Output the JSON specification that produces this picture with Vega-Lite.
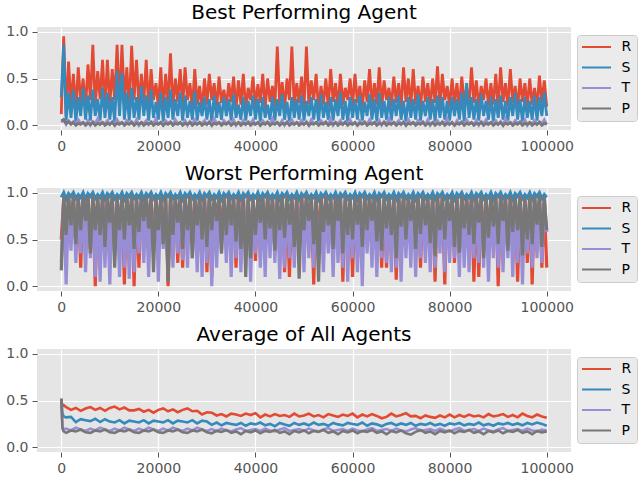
{
  "$schema": "https://vega.github.io/schema/vega-lite/v6.json",
  "description": "Best, worst and average agent R/S/T/P over 100000 steps",
  "padding": {"left": 5, "top": 2, "right": 0, "bottom": 0},
  "background": "#FFFFFF",
  "config": {
    "font": "DejaVu Sans",
    "view": {"fill": "#E5E5E5", "stroke": null},
    "axis": {"domain": false, "grid": true, "gridColor": "#FFFFFF", "gridWidth": 1.2, "tickColor": "#555555", "tickSize": 5, "labelColor": "#555555", "labelFontSize": 14, "labelPadding": 4, "labelFont": "DejaVu Sans"},
    "axisX": {"labelFlush": false},
    "title": {"fontSize": 20, "fontWeight": "normal", "color": "#000000", "font": "DejaVu Sans", "offset": 2, "frame": "group", "anchor": "middle"},
    "legend": {"orient": "none", "legendX": 540, "legendY": 8, "symbolType": "stroke", "symbolSize": 841, "clipHeight": 14, "symbolStrokeWidth": 2, "symbolOffset": -1, "labelFontSize": 14, "labelColor": "#000000", "labelFont": "DejaVu Sans", "fillColor": "#EBEBEB", "strokeColor": "#CCCCCC", "cornerRadius": 3, "padding": 5, "rowPadding": 6.5, "labelOffset": 9.5},
    "concat": {"spacing": 10}
  },
  "datasets": {
    "best": [
      {"x":0,"R":0.12,"S":0.3,"T":0.03,"P":0.05},{"x":500,"R":0.95,"S":0.86,"T":0.06,"P":0.06},{"x":1000,"R":0.1,"S":0.05,"T":0.01,"P":0.02},{"x":1500,"R":0.68,"S":0.35,"T":0.05,"P":0.04},
      {"x":2000,"R":0.22,"S":0.08,"T":0.02,"P":0.01},{"x":2500,"R":0.55,"S":0.38,"T":0.04,"P":0.03},{"x":3000,"R":0.16,"S":0.04,"T":0.01,"P":0.0},{"x":3500,"R":0.62,"S":0.3,"T":0.06,"P":0.02},
      {"x":4000,"R":0.25,"S":0.1,"T":0.02,"P":0.01},{"x":4500,"R":0.5,"S":0.4,"T":0.03,"P":0.03},{"x":5000,"R":0.18,"S":0.06,"T":0.01,"P":0.0},{"x":5500,"R":0.65,"S":0.32,"T":0.05,"P":0.02},
      {"x":6000,"R":0.27,"S":0.05,"T":0.0,"P":0.01},{"x":6500,"R":0.86,"S":0.38,"T":0.04,"P":0.03},{"x":7000,"R":0.2,"S":0.1,"T":0.02,"P":0.0},{"x":7500,"R":0.58,"S":0.28,"T":0.07,"P":0.02},
      {"x":8000,"R":0.28,"S":0.05,"T":0.01,"P":0.01},{"x":8500,"R":0.7,"S":0.4,"T":0.03,"P":0.03},{"x":9000,"R":0.18,"S":0.08,"T":0.02,"P":0.0},{"x":9500,"R":0.7,"S":0.35,"T":0.05,"P":0.02},
      {"x":10000,"R":0.22,"S":0.06,"T":0.01,"P":0.01},{"x":10500,"R":0.6,"S":0.3,"T":0.04,"P":0.03},{"x":11000,"R":0.27,"S":0.04,"T":0.0,"P":0.0},{"x":11500,"R":0.86,"S":0.58,"T":0.06,"P":0.02},
      {"x":12000,"R":0.2,"S":0.1,"T":0.02,"P":0.01},{"x":12500,"R":0.86,"S":0.56,"T":0.03,"P":0.03},{"x":13000,"R":0.25,"S":0.06,"T":0.01,"P":0.0},{"x":13500,"R":0.62,"S":0.35,"T":0.05,"P":0.02},
      {"x":14000,"R":0.18,"S":0.05,"T":0.02,"P":0.01},{"x":14500,"R":0.85,"S":0.4,"T":0.04,"P":0.03},{"x":15000,"R":0.27,"S":0.08,"T":0.01,"P":0.0},{"x":15500,"R":0.7,"S":0.3,"T":0.06,"P":0.02},
      {"x":16000,"R":0.2,"S":0.06,"T":0.0,"P":0.01},{"x":16500,"R":0.55,"S":0.42,"T":0.03,"P":0.03},{"x":17000,"R":0.24,"S":0.1,"T":0.02,"P":0.0},{"x":17500,"R":0.7,"S":0.32,"T":0.05,"P":0.02},
      {"x":18000,"R":0.18,"S":0.05,"T":0.01,"P":0.01},{"x":18500,"R":0.6,"S":0.38,"T":0.04,"P":0.03},{"x":19000,"R":0.27,"S":0.08,"T":0.02,"P":0.0},{"x":19500,"R":0.45,"S":0.25,"T":0.07,"P":0.02},
      {"x":20000,"R":0.2,"S":0.06,"T":0.01,"P":0.01},{"x":20500,"R":0.62,"S":0.35,"T":0.03,"P":0.03},{"x":21000,"R":0.16,"S":0.04,"T":0.0,"P":0.0},{"x":21500,"R":0.55,"S":0.3,"T":0.05,"P":0.02},
      {"x":22000,"R":0.22,"S":0.08,"T":0.02,"P":0.01},{"x":22500,"R":0.77,"S":0.38,"T":0.04,"P":0.03},{"x":23000,"R":0.18,"S":0.06,"T":0.01,"P":0.0},{"x":23500,"R":0.5,"S":0.28,"T":0.06,"P":0.02},
      {"x":24000,"R":0.25,"S":0.1,"T":0.02,"P":0.01},{"x":24500,"R":0.6,"S":0.35,"T":0.03,"P":0.03},{"x":25000,"R":0.2,"S":0.05,"T":0.01,"P":0.0},{"x":25500,"R":0.62,"S":0.32,"T":0.05,"P":0.02},
      {"x":26000,"R":0.27,"S":0.08,"T":0.0,"P":0.01},{"x":26500,"R":0.45,"S":0.26,"T":0.04,"P":0.03},{"x":27000,"R":0.18,"S":0.06,"T":0.02,"P":0.0},{"x":27500,"R":0.6,"S":0.36,"T":0.06,"P":0.02},
      {"x":28000,"R":0.22,"S":0.05,"T":0.01,"P":0.01},{"x":28500,"R":0.42,"S":0.25,"T":0.03,"P":0.03},{"x":29000,"R":0.16,"S":0.1,"T":0.02,"P":0.0},{"x":29500,"R":0.5,"S":0.3,"T":0.05,"P":0.02},
      {"x":30000,"R":0.22,"S":0.06,"T":0.01,"P":0.01},{"x":30500,"R":0.55,"S":0.28,"T":0.04,"P":0.03},{"x":31000,"R":0.27,"S":0.04,"T":0.0,"P":0.0},{"x":31500,"R":0.45,"S":0.32,"T":0.07,"P":0.02},
      {"x":32000,"R":0.18,"S":0.08,"T":0.02,"P":0.01},{"x":32500,"R":0.52,"S":0.25,"T":0.03,"P":0.03},{"x":33000,"R":0.24,"S":0.06,"T":0.01,"P":0.0},{"x":33500,"R":0.38,"S":0.3,"T":0.05,"P":0.02},
      {"x":34000,"R":0.2,"S":0.1,"T":0.02,"P":0.01},{"x":34500,"R":0.45,"S":0.28,"T":0.04,"P":0.03},{"x":35000,"R":0.25,"S":0.05,"T":0.01,"P":0.0},{"x":35500,"R":0.52,"S":0.33,"T":0.06,"P":0.02},
      {"x":36000,"R":0.18,"S":0.08,"T":0.0,"P":0.01},{"x":36500,"R":0.48,"S":0.22,"T":0.03,"P":0.03},{"x":37000,"R":0.22,"S":0.06,"T":0.02,"P":0.0},{"x":37500,"R":0.55,"S":0.3,"T":0.05,"P":0.02},
      {"x":38000,"R":0.16,"S":0.05,"T":0.01,"P":0.01},{"x":38500,"R":0.4,"S":0.26,"T":0.04,"P":0.03},{"x":39000,"R":0.27,"S":0.1,"T":0.02,"P":0.0},{"x":39500,"R":0.52,"S":0.32,"T":0.06,"P":0.02},
      {"x":40000,"R":0.2,"S":0.06,"T":0.01,"P":0.01},{"x":40500,"R":0.44,"S":0.28,"T":0.03,"P":0.03},{"x":41000,"R":0.24,"S":0.04,"T":0.0,"P":0.0},{"x":41500,"R":0.55,"S":0.3,"T":0.05,"P":0.02},
      {"x":42000,"R":0.18,"S":0.08,"T":0.02,"P":0.01},{"x":42500,"R":0.5,"S":0.22,"T":0.04,"P":0.03},{"x":43000,"R":0.25,"S":0.06,"T":0.01,"P":0.0},{"x":43500,"R":0.42,"S":0.3,"T":0.07,"P":0.02},
      {"x":44000,"R":0.2,"S":0.05,"T":0.02,"P":0.01},{"x":44500,"R":0.84,"S":0.28,"T":0.03,"P":0.03},{"x":45000,"R":0.22,"S":0.1,"T":0.01,"P":0.0},{"x":45500,"R":0.46,"S":0.33,"T":0.05,"P":0.02},
      {"x":46000,"R":0.18,"S":0.06,"T":0.0,"P":0.01},{"x":46500,"R":0.5,"S":0.25,"T":0.04,"P":0.03},{"x":47000,"R":0.27,"S":0.04,"T":0.02,"P":0.0},{"x":47500,"R":0.84,"S":0.3,"T":0.06,"P":0.02},
      {"x":48000,"R":0.2,"S":0.08,"T":0.01,"P":0.01},{"x":48500,"R":0.45,"S":0.28,"T":0.03,"P":0.03},{"x":49000,"R":0.24,"S":0.06,"T":0.02,"P":0.0},{"x":49500,"R":0.52,"S":0.32,"T":0.05,"P":0.02},
      {"x":50000,"R":0.18,"S":0.05,"T":0.01,"P":0.01},{"x":50500,"R":0.84,"S":0.26,"T":0.04,"P":0.03},{"x":51000,"R":0.22,"S":0.1,"T":0.0,"P":0.0},{"x":51500,"R":0.48,"S":0.3,"T":0.06,"P":0.02},
      {"x":52000,"R":0.27,"S":0.06,"T":0.02,"P":0.01},{"x":52500,"R":0.55,"S":0.28,"T":0.03,"P":0.03},{"x":53000,"R":0.16,"S":0.04,"T":0.01,"P":0.0},{"x":53500,"R":0.42,"S":0.33,"T":0.05,"P":0.02},
      {"x":54000,"R":0.22,"S":0.08,"T":0.02,"P":0.01},{"x":54500,"R":0.5,"S":0.25,"T":0.04,"P":0.03},{"x":55000,"R":0.2,"S":0.06,"T":0.01,"P":0.0},{"x":55500,"R":0.6,"S":0.3,"T":0.07,"P":0.02},
      {"x":56000,"R":0.25,"S":0.05,"T":0.0,"P":0.01},{"x":56500,"R":0.45,"S":0.28,"T":0.03,"P":0.03},{"x":57000,"R":0.18,"S":0.1,"T":0.02,"P":0.0},{"x":57500,"R":0.55,"S":0.35,"T":0.05,"P":0.02},
      {"x":58000,"R":0.22,"S":0.06,"T":0.01,"P":0.01},{"x":58500,"R":0.4,"S":0.26,"T":0.04,"P":0.03},{"x":59000,"R":0.27,"S":0.04,"T":0.02,"P":0.0},{"x":59500,"R":0.5,"S":0.3,"T":0.06,"P":0.02},
      {"x":60000,"R":0.2,"S":0.08,"T":0.01,"P":0.01},{"x":60500,"R":0.55,"S":0.28,"T":0.03,"P":0.03},{"x":61000,"R":0.24,"S":0.06,"T":0.0,"P":0.0},{"x":61500,"R":0.42,"S":0.32,"T":0.05,"P":0.02},
      {"x":62000,"R":0.18,"S":0.05,"T":0.02,"P":0.01},{"x":62500,"R":0.48,"S":0.25,"T":0.04,"P":0.03},{"x":63000,"R":0.25,"S":0.1,"T":0.01,"P":0.0},{"x":63500,"R":0.6,"S":0.33,"T":0.06,"P":0.02},
      {"x":64000,"R":0.2,"S":0.06,"T":0.02,"P":0.01},{"x":64500,"R":0.45,"S":0.28,"T":0.03,"P":0.03},{"x":65000,"R":0.22,"S":0.04,"T":0.01,"P":0.0},{"x":65500,"R":0.62,"S":0.35,"T":0.05,"P":0.02},
      {"x":66000,"R":0.18,"S":0.08,"T":0.0,"P":0.01},{"x":66500,"R":0.48,"S":0.26,"T":0.04,"P":0.03},{"x":67000,"R":0.27,"S":0.06,"T":0.02,"P":0.0},{"x":67500,"R":0.4,"S":0.3,"T":0.07,"P":0.02},
      {"x":68000,"R":0.2,"S":0.05,"T":0.01,"P":0.01},{"x":68500,"R":0.52,"S":0.28,"T":0.03,"P":0.03},{"x":69000,"R":0.24,"S":0.1,"T":0.02,"P":0.0},{"x":69500,"R":0.45,"S":0.32,"T":0.05,"P":0.02},
      {"x":70000,"R":0.18,"S":0.06,"T":0.01,"P":0.01},{"x":70500,"R":0.62,"S":0.26,"T":0.04,"P":0.03},{"x":71000,"R":0.25,"S":0.04,"T":0.0,"P":0.0},{"x":71500,"R":0.5,"S":0.3,"T":0.06,"P":0.02},
      {"x":72000,"R":0.2,"S":0.08,"T":0.02,"P":0.01},{"x":72500,"R":0.6,"S":0.28,"T":0.03,"P":0.03},{"x":73000,"R":0.22,"S":0.06,"T":0.01,"P":0.0},{"x":73500,"R":0.42,"S":0.33,"T":0.05,"P":0.02},
      {"x":74000,"R":0.18,"S":0.05,"T":0.02,"P":0.01},{"x":74500,"R":0.52,"S":0.26,"T":0.04,"P":0.03},{"x":75000,"R":0.25,"S":0.1,"T":0.01,"P":0.0},{"x":75500,"R":0.45,"S":0.3,"T":0.06,"P":0.02},
      {"x":76000,"R":0.2,"S":0.06,"T":0.0,"P":0.01},{"x":76500,"R":0.5,"S":0.28,"T":0.03,"P":0.03},{"x":77000,"R":0.24,"S":0.04,"T":0.02,"P":0.0},{"x":77500,"R":0.63,"S":0.32,"T":0.05,"P":0.02},
      {"x":78000,"R":0.18,"S":0.08,"T":0.01,"P":0.01},{"x":78500,"R":0.55,"S":0.3,"T":0.04,"P":0.03},{"x":79000,"R":0.27,"S":0.06,"T":0.02,"P":0.0},{"x":79500,"R":0.42,"S":0.26,"T":0.07,"P":0.02},
      {"x":80000,"R":0.2,"S":0.05,"T":0.01,"P":0.01},{"x":80500,"R":0.5,"S":0.3,"T":0.03,"P":0.03},{"x":81000,"R":0.22,"S":0.1,"T":0.0,"P":0.0},{"x":81500,"R":0.45,"S":0.28,"T":0.05,"P":0.02},
      {"x":82000,"R":0.18,"S":0.06,"T":0.02,"P":0.01},{"x":82500,"R":0.52,"S":0.35,"T":0.04,"P":0.03},{"x":83000,"R":0.25,"S":0.04,"T":0.01,"P":0.0},{"x":83500,"R":0.4,"S":0.45,"T":0.06,"P":0.02},
      {"x":84000,"R":0.2,"S":0.08,"T":0.02,"P":0.01},{"x":84500,"R":0.62,"S":0.3,"T":0.03,"P":0.03},{"x":85000,"R":0.24,"S":0.06,"T":0.01,"P":0.0},{"x":85500,"R":0.48,"S":0.28,"T":0.05,"P":0.02},
      {"x":86000,"R":0.18,"S":0.05,"T":0.0,"P":0.01},{"x":86500,"R":0.42,"S":0.33,"T":0.04,"P":0.03},{"x":87000,"R":0.27,"S":0.1,"T":0.02,"P":0.0},{"x":87500,"R":0.5,"S":0.26,"T":0.06,"P":0.02},
      {"x":88000,"R":0.2,"S":0.06,"T":0.01,"P":0.01},{"x":88500,"R":0.45,"S":0.3,"T":0.03,"P":0.03},{"x":89000,"R":0.22,"S":0.04,"T":0.02,"P":0.0},{"x":89500,"R":0.55,"S":0.28,"T":0.05,"P":0.02},
      {"x":90000,"R":0.18,"S":0.08,"T":0.01,"P":0.01},{"x":90500,"R":0.62,"S":0.32,"T":0.04,"P":0.03},{"x":91000,"R":0.25,"S":0.06,"T":0.0,"P":0.0},{"x":91500,"R":0.45,"S":0.26,"T":0.07,"P":0.02},
      {"x":92000,"R":0.2,"S":0.05,"T":0.02,"P":0.01},{"x":92500,"R":0.6,"S":0.3,"T":0.03,"P":0.03},{"x":93000,"R":0.24,"S":0.1,"T":0.01,"P":0.0},{"x":93500,"R":0.42,"S":0.34,"T":0.05,"P":0.02},
      {"x":94000,"R":0.18,"S":0.06,"T":0.02,"P":0.01},{"x":94500,"R":0.5,"S":0.28,"T":0.04,"P":0.03},{"x":95000,"R":0.25,"S":0.04,"T":0.01,"P":0.0},{"x":95500,"R":0.45,"S":0.3,"T":0.06,"P":0.02},
      {"x":96000,"R":0.2,"S":0.08,"T":0.0,"P":0.01},{"x":96500,"R":0.5,"S":0.26,"T":0.03,"P":0.03},{"x":97000,"R":0.22,"S":0.06,"T":0.02,"P":0.0},{"x":97500,"R":0.4,"S":0.32,"T":0.05,"P":0.02},
      {"x":98000,"R":0.18,"S":0.05,"T":0.01,"P":0.01},{"x":98500,"R":0.53,"S":0.3,"T":0.04,"P":0.03},{"x":99000,"R":0.24,"S":0.1,"T":0.02,"P":0.0},{"x":99500,"R":0.48,"S":0.35,"T":0.06,"P":0.02},
      {"x":100000,"R":0.2,"S":0.1,"T":0.01,"P":0.01}
    ],
    "worst": [
      {"x":0,"R":0.5,"S":0.95,"T":0.25,"P":0.17},{"x":500,"R":0.95,"S":1.0,"T":0.92,"P":0.97},{"x":1000,"R":0.45,"S":0.93,"T":0.02,"P":0.55},{"x":1500,"R":0.98,"S":0.99,"T":0.88,"P":0.96},
      {"x":2000,"R":0.5,"S":0.96,"T":0.38,"P":0.65},{"x":2500,"R":0.92,"S":1.0,"T":0.95,"P":0.98},{"x":3000,"R":0.45,"S":0.94,"T":0.25,"P":0.45},{"x":3500,"R":0.96,"S":0.98,"T":0.9,"P":0.95},
      {"x":4000,"R":0.2,"S":0.95,"T":0.35,"P":0.6},{"x":4500,"R":0.95,"S":1.0,"T":0.92,"P":0.97},{"x":5000,"R":0.45,"S":0.93,"T":0.15,"P":0.7},{"x":5500,"R":0.98,"S":0.99,"T":0.88,"P":0.96},
      {"x":6000,"R":0.4,"S":0.96,"T":0.3,"P":0.35},{"x":6500,"R":0.92,"S":1.0,"T":0.95,"P":0.98},{"x":7000,"R":0.0,"S":0.94,"T":0.1,"P":0.6},{"x":7500,"R":0.96,"S":0.98,"T":0.9,"P":0.95},
      {"x":8000,"R":0.45,"S":0.95,"T":0.05,"P":0.55},{"x":8500,"R":0.95,"S":1.0,"T":0.92,"P":0.97},{"x":9000,"R":0.5,"S":0.93,"T":0.2,"P":0.42},{"x":9500,"R":0.98,"S":0.99,"T":0.88,"P":0.96},
      {"x":10000,"R":0.45,"S":0.96,"T":0.02,"P":0.68},{"x":10500,"R":0.92,"S":1.0,"T":0.95,"P":0.98},{"x":11000,"R":0.4,"S":0.94,"T":0.3,"P":0.2},{"x":11500,"R":0.96,"S":0.98,"T":0.9,"P":0.95},
      {"x":12000,"R":0.5,"S":0.95,"T":0.1,"P":0.6},{"x":12500,"R":0.95,"S":1.0,"T":0.92,"P":0.97},{"x":13000,"R":0.02,"S":0.93,"T":0.2,"P":0.5},{"x":13500,"R":0.98,"S":0.99,"T":0.88,"P":0.96},
      {"x":14000,"R":0.45,"S":0.96,"T":0.08,"P":0.65},{"x":14500,"R":0.92,"S":1.0,"T":0.95,"P":0.98},{"x":15000,"R":0.0,"S":0.94,"T":0.15,"P":0.4},{"x":15500,"R":0.96,"S":0.98,"T":0.9,"P":0.95},
      {"x":16000,"R":0.2,"S":0.95,"T":0.35,"P":0.58},{"x":16500,"R":0.95,"S":1.0,"T":0.92,"P":0.97},{"x":17000,"R":0.45,"S":0.93,"T":0.25,"P":0.7},{"x":17500,"R":0.98,"S":0.99,"T":0.88,"P":0.96},
      {"x":18000,"R":0.5,"S":0.96,"T":0.1,"P":0.62},{"x":18500,"R":0.92,"S":1.0,"T":0.95,"P":0.98},{"x":19000,"R":0.45,"S":0.94,"T":0.35,"P":0.15},{"x":19500,"R":0.96,"S":0.98,"T":0.9,"P":0.95},
      {"x":20000,"R":0.5,"S":0.95,"T":0.05,"P":0.6},{"x":20500,"R":0.95,"S":1.0,"T":0.92,"P":0.97},{"x":21000,"R":0.45,"S":0.93,"T":0.4,"P":0.45},{"x":21500,"R":0.98,"S":0.99,"T":0.88,"P":0.96},
      {"x":22000,"R":0.0,"S":0.96,"T":0.15,"P":0.05},{"x":22500,"R":0.92,"S":1.0,"T":0.95,"P":0.98},{"x":23000,"R":0.45,"S":0.94,"T":0.2,"P":0.55},{"x":23500,"R":0.96,"S":0.98,"T":0.9,"P":0.95},
      {"x":24000,"R":0.25,"S":0.95,"T":0.35,"P":0.68},{"x":24500,"R":0.95,"S":1.0,"T":0.92,"P":0.97},{"x":25000,"R":0.2,"S":0.93,"T":0.28,"P":0.4},{"x":25500,"R":0.98,"S":0.99,"T":0.88,"P":0.96},
      {"x":26000,"R":0.45,"S":0.96,"T":0.2,"P":0.6},{"x":26500,"R":0.92,"S":1.0,"T":0.95,"P":0.98},{"x":27000,"R":0.5,"S":0.94,"T":0.3,"P":0.3},{"x":27500,"R":0.96,"S":0.98,"T":0.9,"P":0.95},
      {"x":28000,"R":0.45,"S":0.95,"T":0.15,"P":0.65},{"x":28500,"R":0.95,"S":1.0,"T":0.92,"P":0.97},{"x":29000,"R":0.4,"S":0.93,"T":0.1,"P":0.5},{"x":29500,"R":0.98,"S":0.99,"T":0.88,"P":0.96},
      {"x":30000,"R":0.15,"S":0.96,"T":0.25,"P":0.42},{"x":30500,"R":0.92,"S":1.0,"T":0.95,"P":0.98},{"x":31000,"R":0.1,"S":0.94,"T":0.0,"P":0.6},{"x":31500,"R":0.96,"S":0.98,"T":0.9,"P":0.95},
      {"x":32000,"R":0.45,"S":0.95,"T":0.2,"P":0.7},{"x":32500,"R":0.95,"S":1.0,"T":0.92,"P":0.97},{"x":33000,"R":0.5,"S":0.93,"T":0.35,"P":0.35},{"x":33500,"R":0.98,"S":0.99,"T":0.88,"P":0.96},
      {"x":34000,"R":0.45,"S":0.96,"T":0.25,"P":0.55},{"x":34500,"R":0.92,"S":1.0,"T":0.95,"P":0.98},{"x":35000,"R":0.4,"S":0.94,"T":0.1,"P":0.65},{"x":35500,"R":0.96,"S":0.98,"T":0.9,"P":0.95},
      {"x":36000,"R":0.2,"S":0.95,"T":0.3,"P":0.48},{"x":36500,"R":0.95,"S":1.0,"T":0.92,"P":0.97},{"x":37000,"R":0.5,"S":0.93,"T":0.15,"P":0.4},{"x":37500,"R":0.98,"S":0.99,"T":0.88,"P":0.96},
      {"x":38000,"R":0.45,"S":0.96,"T":0.35,"P":0.1},{"x":38500,"R":0.92,"S":1.0,"T":0.95,"P":0.98},{"x":39000,"R":0.4,"S":0.94,"T":0.05,"P":0.3},{"x":39500,"R":0.96,"S":0.98,"T":0.9,"P":0.95},
      {"x":40000,"R":0.27,"S":0.95,"T":0.35,"P":0.55},{"x":40500,"R":0.95,"S":1.0,"T":0.92,"P":0.97},{"x":41000,"R":0.5,"S":0.93,"T":0.2,"P":0.68},{"x":41500,"R":0.98,"S":0.99,"T":0.88,"P":0.96},
      {"x":42000,"R":0.45,"S":0.96,"T":0.1,"P":0.5},{"x":42500,"R":0.92,"S":1.0,"T":0.95,"P":0.98},{"x":43000,"R":0.4,"S":0.94,"T":0.3,"P":0.62},{"x":43500,"R":0.96,"S":0.98,"T":0.9,"P":0.95},
      {"x":44000,"R":0.5,"S":0.95,"T":0.25,"P":0.38},{"x":44500,"R":0.95,"S":1.0,"T":0.92,"P":0.97},{"x":45000,"R":0.45,"S":0.93,"T":0.08,"P":0.6},{"x":45500,"R":0.98,"S":0.99,"T":0.88,"P":0.96},
      {"x":46000,"R":0.15,"S":0.96,"T":0.2,"P":0.52},{"x":46500,"R":0.92,"S":1.0,"T":0.95,"P":0.98},{"x":47000,"R":0.1,"S":0.94,"T":0.3,"P":0.66},{"x":47500,"R":0.96,"S":0.98,"T":0.9,"P":0.95},
      {"x":48000,"R":0.45,"S":0.95,"T":0.2,"P":0.42},{"x":48500,"R":0.95,"S":1.0,"T":0.92,"P":0.97},{"x":49000,"R":0.45,"S":0.93,"T":0.35,"P":0.08},{"x":49500,"R":0.98,"S":0.99,"T":0.88,"P":0.96},
      {"x":50000,"R":0.5,"S":0.96,"T":0.15,"P":0.6},{"x":50500,"R":0.92,"S":1.0,"T":0.95,"P":0.98},{"x":51000,"R":0.45,"S":0.94,"T":0.3,"P":0.7},{"x":51500,"R":0.96,"S":0.98,"T":0.9,"P":0.95},
      {"x":52000,"R":0.02,"S":0.95,"T":0.2,"P":0.45},{"x":52500,"R":0.95,"S":1.0,"T":0.92,"P":0.97},{"x":53000,"R":0.45,"S":0.93,"T":0.25,"P":0.05},{"x":53500,"R":0.98,"S":0.99,"T":0.88,"P":0.96},
      {"x":54000,"R":0.5,"S":0.96,"T":0.15,"P":0.58},{"x":54500,"R":0.92,"S":1.0,"T":0.95,"P":0.98},{"x":55000,"R":0.45,"S":0.94,"T":0.35,"P":0.65},{"x":55500,"R":0.96,"S":0.98,"T":0.9,"P":0.95},
      {"x":56000,"R":0.4,"S":0.95,"T":0.1,"P":0.4},{"x":56500,"R":0.95,"S":1.0,"T":0.92,"P":0.97},{"x":57000,"R":0.5,"S":0.93,"T":0.25,"P":0.7},{"x":57500,"R":0.98,"S":0.99,"T":0.88,"P":0.96},
      {"x":58000,"R":0.05,"S":0.96,"T":0.2,"P":0.35},{"x":58500,"R":0.92,"S":1.0,"T":0.95,"P":0.98},{"x":59000,"R":0.45,"S":0.94,"T":0.05,"P":0.55},{"x":59500,"R":0.96,"S":0.98,"T":0.9,"P":0.95},
      {"x":60000,"R":0.1,"S":0.95,"T":0.3,"P":0.5},{"x":60500,"R":0.95,"S":1.0,"T":0.92,"P":0.97},{"x":61000,"R":0.45,"S":0.93,"T":0.15,"P":0.66},{"x":61500,"R":0.98,"S":0.99,"T":0.88,"P":0.96},
      {"x":62000,"R":0.45,"S":0.96,"T":0.0,"P":0.42},{"x":62500,"R":0.92,"S":1.0,"T":0.95,"P":0.98},{"x":63000,"R":0.45,"S":0.94,"T":0.35,"P":0.6},{"x":63500,"R":0.96,"S":0.98,"T":0.9,"P":0.95},
      {"x":64000,"R":0.5,"S":0.95,"T":0.2,"P":0.7},{"x":64500,"R":0.95,"S":1.0,"T":0.92,"P":0.97},{"x":65000,"R":0.45,"S":0.93,"T":0.1,"P":0.48},{"x":65500,"R":0.98,"S":0.99,"T":0.88,"P":0.96},
      {"x":66000,"R":0.2,"S":0.96,"T":0.3,"P":0.38},{"x":66500,"R":0.92,"S":1.0,"T":0.95,"P":0.98},{"x":67000,"R":0.2,"S":0.94,"T":0.25,"P":0.62},{"x":67500,"R":0.96,"S":0.98,"T":0.9,"P":0.95},
      {"x":68000,"R":0.5,"S":0.95,"T":0.15,"P":0.55},{"x":68500,"R":0.95,"S":1.0,"T":0.92,"P":0.97},{"x":69000,"R":0.07,"S":0.93,"T":0.2,"P":0.3},{"x":69500,"R":0.98,"S":0.99,"T":0.88,"P":0.96},
      {"x":70000,"R":0.45,"S":0.96,"T":0.05,"P":0.64},{"x":70500,"R":0.92,"S":1.0,"T":0.95,"P":0.98},{"x":71000,"R":0.45,"S":0.94,"T":0.3,"P":0.5},{"x":71500,"R":0.96,"S":0.98,"T":0.9,"P":0.95},
      {"x":72000,"R":0.5,"S":0.95,"T":0.2,"P":0.7},{"x":72500,"R":0.95,"S":1.0,"T":0.92,"P":0.97},{"x":73000,"R":0.45,"S":0.93,"T":0.1,"P":0.4},{"x":73500,"R":0.98,"S":0.99,"T":0.88,"P":0.96},
      {"x":74000,"R":0.2,"S":0.96,"T":0.3,"P":0.56},{"x":74500,"R":0.92,"S":1.0,"T":0.95,"P":0.98},{"x":75000,"R":0.5,"S":0.94,"T":0.25,"P":0.65},{"x":75500,"R":0.96,"S":0.98,"T":0.9,"P":0.95},
      {"x":76000,"R":0.45,"S":0.95,"T":0.15,"P":0.46},{"x":76500,"R":0.95,"S":1.0,"T":0.92,"P":0.97},{"x":77000,"R":0.05,"S":0.93,"T":0.2,"P":0.32},{"x":77500,"R":0.98,"S":0.99,"T":0.88,"P":0.96},
      {"x":78000,"R":0.45,"S":0.96,"T":0.35,"P":0.6},{"x":78500,"R":0.92,"S":1.0,"T":0.95,"P":0.98},{"x":79000,"R":0.02,"S":0.94,"T":0.15,"P":0.5},{"x":79500,"R":0.96,"S":0.98,"T":0.9,"P":0.95},
      {"x":80000,"R":0.5,"S":0.95,"T":0.25,"P":0.7},{"x":80500,"R":0.95,"S":1.0,"T":0.92,"P":0.97},{"x":81000,"R":0.25,"S":0.93,"T":0.3,"P":0.42},{"x":81500,"R":0.98,"S":0.99,"T":0.88,"P":0.96},
      {"x":82000,"R":0.45,"S":0.96,"T":0.1,"P":0.36},{"x":82500,"R":0.92,"S":1.0,"T":0.95,"P":0.98},{"x":83000,"R":0.45,"S":0.94,"T":0.2,"P":0.62},{"x":83500,"R":0.96,"S":0.98,"T":0.9,"P":0.95},
      {"x":84000,"R":0.5,"S":0.95,"T":0.15,"P":0.55},{"x":84500,"R":0.95,"S":1.0,"T":0.92,"P":0.97},{"x":85000,"R":0.05,"S":0.93,"T":0.3,"P":0.45},{"x":85500,"R":0.98,"S":0.99,"T":0.88,"P":0.96},
      {"x":86000,"R":0.1,"S":0.96,"T":0.25,"P":0.68},{"x":86500,"R":0.92,"S":1.0,"T":0.95,"P":0.98},{"x":87000,"R":0.45,"S":0.94,"T":0.2,"P":0.3},{"x":87500,"R":0.96,"S":0.98,"T":0.9,"P":0.95},
      {"x":88000,"R":0.45,"S":0.95,"T":0.05,"P":0.52},{"x":88500,"R":0.95,"S":1.0,"T":0.92,"P":0.97},{"x":89000,"R":0.5,"S":0.93,"T":0.3,"P":0.64},{"x":89500,"R":0.98,"S":0.99,"T":0.88,"P":0.96},
      {"x":90000,"R":0.0,"S":0.96,"T":0.2,"P":0.45},{"x":90500,"R":0.92,"S":1.0,"T":0.95,"P":0.98},{"x":91000,"R":0.45,"S":0.94,"T":0.15,"P":0.7},{"x":91500,"R":0.96,"S":0.98,"T":0.9,"P":0.95},
      {"x":92000,"R":0.45,"S":0.95,"T":0.3,"P":0.38},{"x":92500,"R":0.95,"S":1.0,"T":0.92,"P":0.97},{"x":93000,"R":0.5,"S":0.93,"T":0.1,"P":0.58},{"x":93500,"R":0.98,"S":0.99,"T":0.88,"P":0.96},
      {"x":94000,"R":0.05,"S":0.96,"T":0.25,"P":0.6},{"x":94500,"R":0.92,"S":1.0,"T":0.95,"P":0.98},{"x":95000,"R":0.45,"S":0.94,"T":0.02,"P":0.33},{"x":95500,"R":0.96,"S":0.98,"T":0.9,"P":0.95},
      {"x":96000,"R":0.25,"S":0.95,"T":0.35,"P":0.5},{"x":96500,"R":0.95,"S":1.0,"T":0.92,"P":0.97},{"x":97000,"R":0.02,"S":0.93,"T":0.2,"P":0.45},{"x":97500,"R":0.98,"S":0.99,"T":0.88,"P":0.96},
      {"x":98000,"R":0.45,"S":0.96,"T":0.3,"P":0.66},{"x":98500,"R":0.92,"S":1.0,"T":0.95,"P":0.98},{"x":99000,"R":0.2,"S":0.94,"T":0.25,"P":0.42},{"x":99500,"R":0.96,"S":0.98,"T":0.9,"P":0.95},
      {"x":100000,"R":0.2,"S":0.95,"T":0.58,"P":0.6}
    ],
    "avg": [
      {"x":0,"R":0.5,"S":0.52,"T":0.5,"P":0.52},{"x":250,"R":0.44,"S":0.36,"T":0.22,"P":0.2},{"x":500,"R":0.45,"S":0.33,"T":0.19,"P":0.17},
      {"x":1000,"R":0.43,"S":0.32,"T":0.2,"P":0.155},{"x":2000,"R":0.4,"S":0.325,"T":0.18,"P":0.18},{"x":3000,"R":0.42,"S":0.27,"T":0.21,"P":0.17},{"x":4000,"R":0.39,"S":0.3,"T":0.19,"P":0.19},{"x":5000,"R":0.415,"S":0.29,"T":0.175,"P":0.16},
      {"x":6000,"R":0.43,"S":0.28,"T":0.2,"P":0.155},{"x":7000,"R":0.4,"S":0.305,"T":0.18,"P":0.18},{"x":8000,"R":0.42,"S":0.27,"T":0.21,"P":0.17},{"x":9000,"R":0.39,"S":0.3,"T":0.19,"P":0.19},{"x":10000,"R":0.42,"S":0.275,"T":0.175,"P":0.16},
      {"x":11000,"R":0.435,"S":0.265,"T":0.2,"P":0.155},{"x":12000,"R":0.405,"S":0.29,"T":0.18,"P":0.18},{"x":13000,"R":0.425,"S":0.255,"T":0.21,"P":0.17},{"x":14000,"R":0.395,"S":0.285,"T":0.19,"P":0.19},{"x":15000,"R":0.395,"S":0.275,"T":0.175,"P":0.16},
      {"x":16000,"R":0.41,"S":0.265,"T":0.2,"P":0.155},{"x":17000,"R":0.38,"S":0.29,"T":0.18,"P":0.18},{"x":18000,"R":0.4,"S":0.255,"T":0.21,"P":0.17},{"x":19000,"R":0.37,"S":0.285,"T":0.19,"P":0.19},{"x":20000,"R":0.4,"S":0.275,"T":0.175,"P":0.16},
      {"x":21000,"R":0.415,"S":0.265,"T":0.2,"P":0.155},{"x":22000,"R":0.385,"S":0.29,"T":0.18,"P":0.18},{"x":23000,"R":0.405,"S":0.255,"T":0.21,"P":0.17},{"x":24000,"R":0.375,"S":0.285,"T":0.19,"P":0.19},{"x":25000,"R":0.4,"S":0.275,"T":0.175,"P":0.16},
      {"x":26000,"R":0.415,"S":0.265,"T":0.2,"P":0.155},{"x":27000,"R":0.385,"S":0.29,"T":0.18,"P":0.18},{"x":28000,"R":0.39,"S":0.255,"T":0.21,"P":0.17},{"x":29000,"R":0.35,"S":0.285,"T":0.19,"P":0.19},{"x":30000,"R":0.375,"S":0.275,"T":0.175,"P":0.16},
      {"x":31000,"R":0.37,"S":0.24,"T":0.195,"P":0.15},{"x":32000,"R":0.34,"S":0.265,"T":0.175,"P":0.175},{"x":33000,"R":0.355,"S":0.235,"T":0.2,"P":0.165},{"x":34000,"R":0.33,"S":0.26,"T":0.18,"P":0.185},{"x":35000,"R":0.36,"S":0.25,"T":0.17,"P":0.155},
      {"x":36000,"R":0.35,"S":0.24,"T":0.19,"P":0.17},{"x":37000,"R":0.335,"S":0.26,"T":0.205,"P":0.14},{"x":38000,"R":0.36,"S":0.23,"T":0.175,"P":0.175},{"x":39000,"R":0.345,"S":0.255,"T":0.185,"P":0.16},{"x":40000,"R":0.365,"S":0.245,"T":0.195,"P":0.18},
      {"x":41000,"R":0.32,"S":0.265,"T":0.175,"P":0.15},{"x":42000,"R":0.35,"S":0.235,"T":0.2,"P":0.175},{"x":43000,"R":0.33,"S":0.25,"T":0.18,"P":0.165},{"x":44000,"R":0.355,"S":0.225,"T":0.17,"P":0.185},{"x":45000,"R":0.335,"S":0.26,"T":0.19,"P":0.155},
      {"x":46000,"R":0.345,"S":0.245,"T":0.205,"P":0.17},{"x":47000,"R":0.325,"S":0.23,"T":0.175,"P":0.14},{"x":48000,"R":0.36,"S":0.26,"T":0.185,"P":0.175},{"x":49000,"R":0.33,"S":0.24,"T":0.195,"P":0.16},{"x":50000,"R":0.34,"S":0.255,"T":0.175,"P":0.18},
      {"x":51000,"R":0.36,"S":0.235,"T":0.2,"P":0.15},{"x":52000,"R":0.33,"S":0.265,"T":0.18,"P":0.175},{"x":53000,"R":0.345,"S":0.24,"T":0.17,"P":0.165},{"x":54000,"R":0.32,"S":0.25,"T":0.19,"P":0.185},{"x":55000,"R":0.355,"S":0.23,"T":0.205,"P":0.155},
      {"x":56000,"R":0.34,"S":0.26,"T":0.175,"P":0.17},{"x":57000,"R":0.325,"S":0.245,"T":0.185,"P":0.14},{"x":58000,"R":0.35,"S":0.235,"T":0.195,"P":0.175},{"x":59000,"R":0.335,"S":0.26,"T":0.175,"P":0.16},{"x":60000,"R":0.36,"S":0.25,"T":0.2,"P":0.18},
      {"x":61000,"R":0.32,"S":0.24,"T":0.18,"P":0.15},{"x":62000,"R":0.35,"S":0.265,"T":0.17,"P":0.175},{"x":63000,"R":0.33,"S":0.23,"T":0.19,"P":0.165},{"x":64000,"R":0.355,"S":0.255,"T":0.205,"P":0.185},{"x":65000,"R":0.335,"S":0.245,"T":0.175,"P":0.155},
      {"x":66000,"R":0.31,"S":0.225,"T":0.185,"P":0.17},{"x":67000,"R":0.325,"S":0.25,"T":0.195,"P":0.14},{"x":68000,"R":0.36,"S":0.26,"T":0.175,"P":0.175},{"x":69000,"R":0.33,"S":0.235,"T":0.2,"P":0.16},{"x":70000,"R":0.345,"S":0.255,"T":0.18,"P":0.18},
      {"x":71000,"R":0.365,"S":0.24,"T":0.17,"P":0.15},{"x":72000,"R":0.33,"S":0.26,"T":0.19,"P":0.135},{"x":73000,"R":0.335,"S":0.23,"T":0.205,"P":0.165},{"x":74000,"R":0.31,"S":0.25,"T":0.175,"P":0.185},{"x":75000,"R":0.34,"S":0.24,"T":0.185,"P":0.155},
      {"x":76000,"R":0.325,"S":0.26,"T":0.195,"P":0.17},{"x":77000,"R":0.315,"S":0.235,"T":0.175,"P":0.14},{"x":78000,"R":0.34,"S":0.25,"T":0.2,"P":0.175},{"x":79000,"R":0.32,"S":0.23,"T":0.18,"P":0.16},{"x":80000,"R":0.35,"S":0.255,"T":0.17,"P":0.18},
      {"x":81000,"R":0.32,"S":0.245,"T":0.19,"P":0.15},{"x":82000,"R":0.345,"S":0.26,"T":0.205,"P":0.175},{"x":83000,"R":0.325,"S":0.235,"T":0.175,"P":0.165},{"x":84000,"R":0.35,"S":0.25,"T":0.185,"P":0.185},{"x":85000,"R":0.33,"S":0.24,"T":0.195,"P":0.155},
      {"x":86000,"R":0.34,"S":0.265,"T":0.175,"P":0.17},{"x":87000,"R":0.32,"S":0.235,"T":0.2,"P":0.14},{"x":88000,"R":0.355,"S":0.25,"T":0.18,"P":0.175},{"x":89000,"R":0.33,"S":0.23,"T":0.17,"P":0.16},{"x":90000,"R":0.34,"S":0.255,"T":0.19,"P":0.18},
      {"x":91000,"R":0.355,"S":0.245,"T":0.205,"P":0.15},{"x":92000,"R":0.325,"S":0.26,"T":0.175,"P":0.175},{"x":93000,"R":0.345,"S":0.24,"T":0.185,"P":0.165},{"x":94000,"R":0.32,"S":0.255,"T":0.195,"P":0.185},{"x":95000,"R":0.36,"S":0.235,"T":0.175,"P":0.155},
      {"x":96000,"R":0.335,"S":0.26,"T":0.2,"P":0.17},{"x":97000,"R":0.32,"S":0.245,"T":0.18,"P":0.14},{"x":98000,"R":0.35,"S":0.265,"T":0.17,"P":0.175},{"x":99000,"R":0.33,"S":0.25,"T":0.19,"P":0.16},{"x":100000,"R":0.315,"S":0.23,"T":0.18,"P":0.17}
    ]
  },
  "resolve": {"scale": {"color": "independent"}},
  "vconcat": [
    {
      "title": "Best Performing Agent",
      "width": 534,
      "height": 103,
      "data": {"name": "best"},
      "transform": [{"fold": ["R", "S", "T", "P"], "as": ["series", "value"]}],
      "mark": {"type": "line", "strokeWidth": 2.8, "clip": true},
      "encoding": {
        "x": {"field": "x", "type": "quantitative", "scale": {"domain": [-5000, 105000], "nice": false, "zero": false}, "axis": {"title": null, "values": [0, 20000, 40000, 60000, 80000, 100000], "format": "d"}},
        "y": {"field": "value", "type": "quantitative", "scale": {"domain": [-0.05, 1.05], "nice": false}, "axis": {"title": null, "values": [0, 0.5, 1], "format": ".1f"}},
        "color": {"field": "series", "type": "nominal", "scale": {"domain": ["R", "S", "T", "P"], "range": ["#E24A33", "#348ABD", "#988ED5", "#777777"]}, "legend": {"title": null, "symbolType": "stroke"}}
      }
    },
    {
      "title": "Worst Performing Agent",
      "width": 534,
      "height": 103,
      "data": {"name": "worst"},
      "transform": [{"fold": ["R", "S", "T", "P"], "as": ["series", "value"]}],
      "mark": {"type": "line", "strokeWidth": 3.2, "clip": true},
      "encoding": {
        "x": {"field": "x", "type": "quantitative", "scale": {"domain": [-5000, 105000], "nice": false, "zero": false}, "axis": {"title": null, "values": [0, 20000, 40000, 60000, 80000, 100000], "format": "d"}},
        "y": {"field": "value", "type": "quantitative", "scale": {"domain": [-0.05, 1.05], "nice": false}, "axis": {"title": null, "values": [0, 0.5, 1], "format": ".1f"}},
        "color": {"field": "series", "type": "nominal", "scale": {"domain": ["R", "S", "T", "P"], "range": ["#E24A33", "#348ABD", "#988ED5", "#777777"]}, "legend": {"title": null, "symbolType": "stroke"}}
      }
    },
    {
      "title": "Average of All Agents",
      "width": 534,
      "height": 103,
      "data": {"name": "avg"},
      "transform": [{"fold": ["R", "S", "T", "P"], "as": ["series", "value"]}],
      "mark": {"type": "line", "strokeWidth": 2.6, "clip": true},
      "encoding": {
        "x": {"field": "x", "type": "quantitative", "scale": {"domain": [-5000, 105000], "nice": false, "zero": false}, "axis": {"title": null, "values": [0, 20000, 40000, 60000, 80000, 100000], "format": "d"}},
        "y": {"field": "value", "type": "quantitative", "scale": {"domain": [-0.05, 1.05], "nice": false}, "axis": {"title": null, "values": [0, 0.5, 1], "format": ".1f"}},
        "color": {"field": "series", "type": "nominal", "scale": {"domain": ["R", "S", "T", "P"], "range": ["#E24A33", "#348ABD", "#988ED5", "#777777"]}, "legend": {"title": null, "symbolType": "stroke"}}
      }
    }
  ]
}
